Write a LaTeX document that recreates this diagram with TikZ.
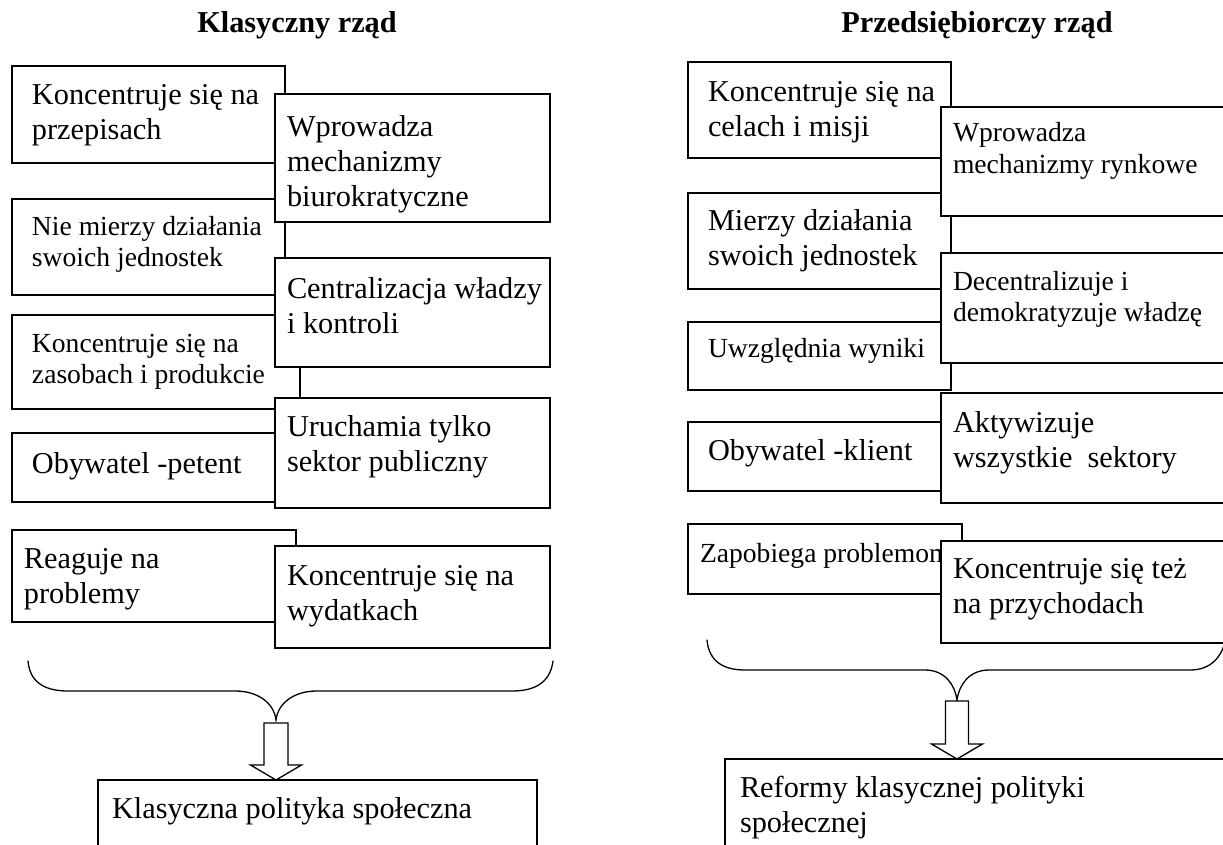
\documentclass[tikz,border=0pt]{standalone}
\usepackage{fontspec}
\setmainfont{Liberation Serif}

\newcommand{\fbig}{\fontsize{30.3}{35}\selectfont}
\newcommand{\fsmall}{\fontsize{27.6}{31.5}\selectfont}

\tikzset{
  cell/.style={draw, fill=white, line width=1.3pt, anchor=north west,
    align=flush left, inner sep=0pt, outer sep=0pt, font=\fbig,
    execute at begin node={\leftskip=#1pt\relax}},
  brace/.style={line width=1.3pt, line cap=round},
  blockarr/.style={draw, fill=white, line width=1.3pt, line join=miter},
  head/.style={font=\fbig\bfseries, anchor=base}
}

\begin{document}
\begin{tikzpicture}[x=1pt, y=-1pt]
\useasboundingbox (0,0) rectangle (1223,845);
\clip (0,0) rectangle (1223,845);

% Titles
\node[head] (tklas) at (297,33) {Klasyczny rząd};
\node[head] (tprzed) at (977,33) {Przedsiębiorczy rząd};

% Left column, inner boxes
\node[cell=20, text width=273pt, text height=39pt, text depth=58pt] (l1) at (12,66)
  {Koncentruje się na\\przepisach};
\node[cell=20, font=\fsmall, text width=273pt, text height=36pt, text depth=60pt] (l2) at (12,199)
  {Nie mierzy działania\\swoich jednostek};
\node[cell=20, font=\fsmall, text width=288pt, text height=37pt, text depth=57pt] (l3) at (12,315)
  {Koncentruje się na\\zasobach i produkcie};
\node[cell=20, text width=263pt, text height=40pt, text depth=29pt] (l4) at (12,433)
  {Obywatel -petent};
\node[cell=12, text width=284pt, text height=38pt, text depth=54pt] (l5) at (12,530)
  {Reaguje na\\problemy};

% Left column, outer boxes (drawn on top)
\node[cell=12, text width=275pt, text height=43pt, text depth=85pt] (r1) at (275,94)
  {Wprowadza\\mechanizmy\\biurokratyczne};
\node[cell=12, text width=275pt, text height=40pt, text depth=69pt] (r2) at (275,258)
  {Centralizacja władzy\\i kontroli};
\node[cell=12, text width=275pt, text height=38pt, text depth=72pt] (r3) at (275,398)
  {Uruchamia tylko\\sektor publiczny};
\node[cell=12, text width=275pt, text height=39pt, text depth=63pt] (r5) at (275,546)
  {Koncentruje się na\\wydatkach};

% Right column, inner boxes
\node[cell=20, text width=263pt, text height=40pt, text depth=56pt] (pl1) at (688,62)
  {Koncentruje się na\\celach i misji};
\node[cell=20, text width=263pt, text height=37pt, text depth=59pt] (pl2) at (688,193)
  {Mierzy działania\\swoich jednostek};
\node[cell=20, font=\fsmall, text width=263pt, text height=35pt, text depth=33pt] (pl3) at (688,322)
  {Uwzględnia wyniki};
\node[cell=20, text width=253pt, text height=38pt, text depth=31pt] (pl4) at (688,422)
  {Obywatel -klient};
\node[cell=12, font=\fsmall, text width=274pt, text height=38pt, text depth=32pt] (pl5) at (688,524)
  {\mbox{Zapobiega problemom}};

% Right column, outer boxes
\node[cell=12, font=\fsmall, text width=299pt, text height=35pt, text depth=74pt] (pr1) at (941,107)
  {Wprowadza\\mechanizmy rynkowe};
\node[cell=12, font=\fsmall, text width=299pt, text height=37pt, text depth=73pt] (pr2) at (941,253)
  {Decentralizuje i\\demokratyzuje władzę};
\node[cell=12, text width=299pt, text height=39pt, text depth=71pt] (pr3) at (941,393)
  {Aktywizuje\\wszystkie~ sektory};
\node[cell=12, text width=299pt, text height=37pt, text depth=65pt] (pr5) at (941,541)
  {Koncentruje się też\\na przychodach};

% Braces
\coordinate (ltip) at (276,720);
\coordinate (rtip) at (957,700);
\draw[brace] (28,661) .. controls (30,684) and (47,691) .. (68,691) -- (235,691)
  .. controls (258,691) and (274,703) .. (ltip)
  .. controls (278,703) and (294,691) .. (317,691) -- (512,691)
  .. controls (533,691) and (550,684) .. (553,661);
\draw[brace] (707,640) .. controls (709,662) and (724,670) .. (745,670) -- (925,670)
  .. controls (945,670) and (955,685) .. (rtip)
  .. controls (959,685) and (969,670) .. (989,670) -- (1190,670)
  .. controls (1210,670) and (1222,658) .. (1226,638);

% Hollow arrows
\draw[blockarr] (ltip) ++(-12,3) -- ++(24,0) -- ++(0,42) -- ++(13.5,0)
  -- ++(-25.5,15) -- ++(-25.5,-15) -- ++(13.5,0) -- cycle;
\draw[blockarr] (rtip) ++(-11.5,1) -- ++(23,0) -- ++(0,43) -- ++(14,0)
  -- ++(-25.5,15) -- ++(-25.5,-15) -- ++(14,0) -- cycle;

% Results
\node[cell=14, text width=439pt, text height=38pt, text depth=62pt] (kpol) at (98,780)
  {Klasyczna polityka społeczna};
\node[cell=15, text width=515pt, text height=38pt, text depth=83pt] (rpol) at (725,759)
  {Reformy klasycznej polityki\\społecznej};

\end{tikzpicture}
\end{document}
